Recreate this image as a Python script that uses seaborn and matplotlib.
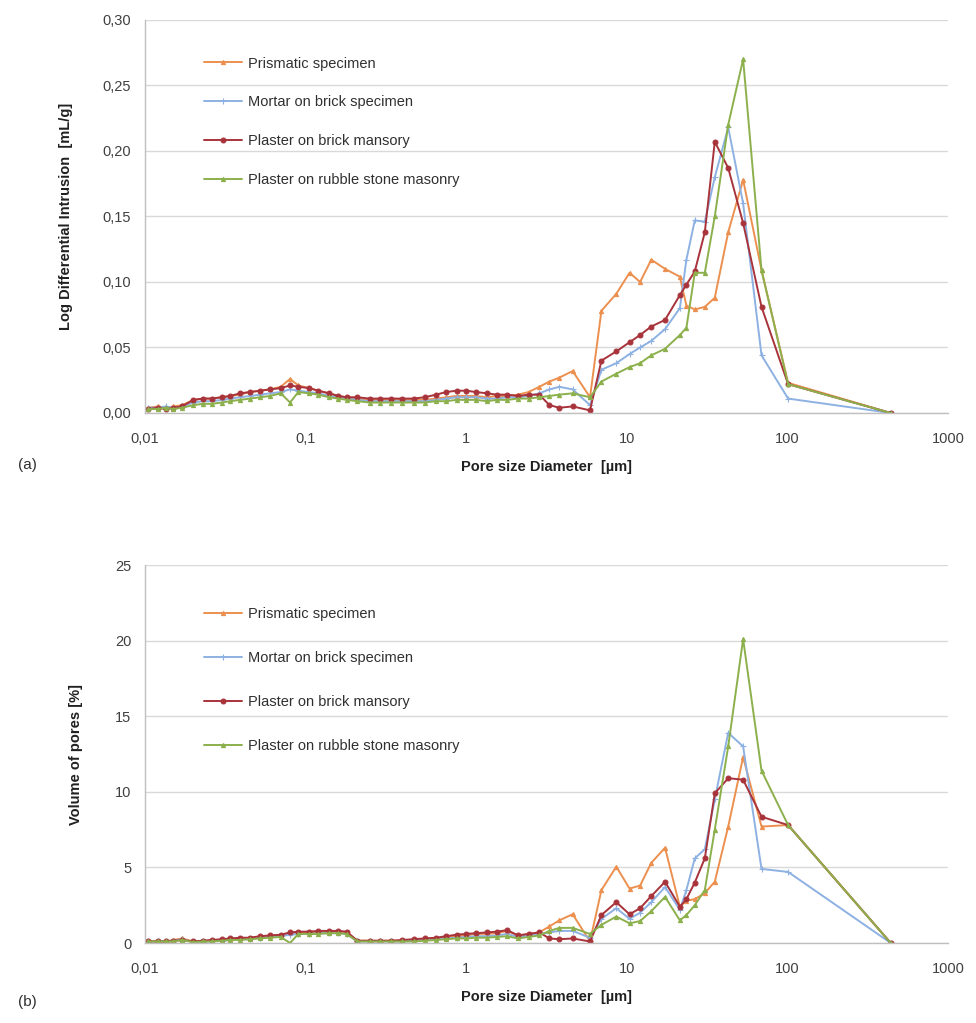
import numpy as np
import pandas as pd
import matplotlib
matplotlib.use("Agg")
import matplotlib.pyplot as plt
import seaborn as sns
from matplotlib.ticker import FixedLocator, FixedFormatter, NullLocator

# ---------------- data ----------------
series_names = ["Prismatic specimen", "Mortar on brick specimen",
                "Plaster on brick mansory", "Plaster on rubble stone masonry"]

diameter_um = [0.0105, 0.012, 0.0135, 0.015, 0.017, 0.02, 0.023, 0.026, 0.03, 0.034,
               0.039, 0.045, 0.052, 0.06, 0.07, 0.08, 0.09, 0.105, 0.12, 0.14,
               0.16, 0.18, 0.21, 0.25, 0.29, 0.34, 0.4, 0.47, 0.55, 0.65,
               0.75, 0.87, 1.0, 1.15, 1.35, 1.55, 1.8, 2.1, 2.45, 2.85,
               3.3, 3.8, 4.6, 5.9, 6.95, 8.6, 10.4, 12.1, 14.2, 17.3,
               21.4, 23.5, 26.5, 30.6, 35.3, 42.8, 53, 69, 101, 440]

# (a) Log differential intrusion [mL/g]
ldi_prismatic = [0.004, 0.005, 0.004, 0.005, 0.006, 0.010, 0.011, 0.011, 0.012, 0.013,
                 0.014, 0.016, 0.017, 0.018, 0.020, 0.026, 0.021, 0.019, 0.017, 0.015,
                 0.013, 0.012, 0.011, 0.010, 0.010, 0.010, 0.010, 0.010, 0.010, 0.011,
                 0.012, 0.013, 0.013, 0.013, 0.012, 0.013, 0.013, 0.014, 0.016, 0.020,
                 0.024, 0.027, 0.032, 0.012, 0.078, 0.091, 0.107, 0.100, 0.117, 0.110,
                 0.104, 0.082, 0.079, 0.081, 0.088, 0.138, 0.178, 0.109, 0.023, 0.0]
ldi_mortar = [0.004, 0.004, 0.005, 0.004, 0.005, 0.008, 0.009, 0.009, 0.010, 0.011,
              0.012, 0.013, 0.014, 0.015, 0.016, 0.018, 0.017, 0.016, 0.015, 0.013,
              0.012, 0.011, 0.010, 0.009, 0.009, 0.009, 0.009, 0.009, 0.009, 0.010,
              0.011, 0.012, 0.012, 0.012, 0.011, 0.011, 0.012, 0.012, 0.013, 0.015,
              0.018, 0.020, 0.018, 0.006, 0.033, 0.038, 0.045, 0.050, 0.055, 0.064,
              0.080, 0.117, 0.147, 0.146, 0.180, 0.218, 0.160, 0.044, 0.011, 0.0]
ldi_plaster_brick = [0.003, 0.004, 0.003, 0.004, 0.005, 0.010, 0.011, 0.011, 0.012, 0.013,
                     0.015, 0.016, 0.017, 0.018, 0.019, 0.021, 0.020, 0.019, 0.017, 0.015,
                     0.013, 0.012, 0.012, 0.011, 0.011, 0.011, 0.011, 0.011, 0.012, 0.014,
                     0.016, 0.017, 0.017, 0.016, 0.015, 0.014, 0.014, 0.013, 0.014, 0.014,
                     0.006, 0.004, 0.005, 0.002, 0.040, 0.047, 0.054, 0.0595, 0.066, 0.071,
                     0.090, 0.098, 0.108, 0.138, 0.207, 0.187, 0.145, 0.081, 0.022, 0.0]
ldi_plaster_rubble = [0.003, 0.003, 0.004, 0.003, 0.004, 0.006, 0.007, 0.007, 0.008, 0.009,
                      0.010, 0.011, 0.012, 0.013, 0.015, 0.008, 0.016, 0.015, 0.014, 0.012,
                      0.011, 0.010, 0.009, 0.008, 0.008, 0.008, 0.008, 0.008, 0.008, 0.009,
                      0.009, 0.010, 0.010, 0.010, 0.009, 0.010, 0.010, 0.011, 0.011, 0.012,
                      0.013, 0.014, 0.015, 0.012, 0.024, 0.030, 0.035, 0.038, 0.044, 0.049,
                      0.0595, 0.065, 0.107, 0.107, 0.150, 0.220, 0.270, 0.109, 0.022, 0.0]

# (b) Volume of pores [%]
vol_prismatic = [0.1, 0.15, 0.1, 0.2, 0.3, 0.1, 0.15, 0.15, 0.2, 0.25,
                 0.3, 0.3, 0.4, 0.45, 0.5, 0.65, 0.7, 0.7, 0.7, 0.75,
                 0.75, 0.7, 0.15, 0.15, 0.15, 0.15, 0.15, 0.15, 0.2, 0.3,
                 0.35, 0.45, 0.5, 0.6, 0.6, 0.65, 0.8, 0.5, 0.6, 0.7,
                 1.1, 1.5, 1.9, 0.1, 3.5, 5.05, 3.6, 3.8, 5.3, 6.3,
                 2.4, 2.8, 2.9, 3.3, 4.05, 7.7, 12.3, 7.7, 7.8, 0.0]
vol_mortar = [0.1, 0.1, 0.1, 0.15, 0.25, 0.05, 0.1, 0.1, 0.15, 0.2,
              0.25, 0.25, 0.35, 0.4, 0.45, 0.55, 0.6, 0.6, 0.65, 0.65,
              0.65, 0.6, 0.1, 0.1, 0.1, 0.1, 0.1, 0.15, 0.2, 0.25,
              0.3, 0.35, 0.4, 0.45, 0.45, 0.5, 0.6, 0.4, 0.5, 0.6,
              0.7, 0.8, 0.8, 0.35, 1.6, 2.3, 1.6, 2.0, 2.7, 3.7,
              2.2, 3.5, 5.6, 6.2, 9.5, 13.9, 13.0, 4.9, 4.7, 0.0]
vol_plaster_brick = [0.1, 0.1, 0.1, 0.15, 0.2, 0.1, 0.15, 0.2, 0.25, 0.3,
                     0.35, 0.35, 0.45, 0.5, 0.55, 0.7, 0.75, 0.75, 0.8, 0.8,
                     0.8, 0.75, 0.15, 0.15, 0.15, 0.15, 0.2, 0.25, 0.3, 0.35,
                     0.45, 0.55, 0.6, 0.65, 0.7, 0.75, 0.85, 0.5, 0.6, 0.7,
                     0.3, 0.25, 0.3, 0.1, 1.85, 2.7, 1.9, 2.3, 3.1, 4.05,
                     2.4, 2.9, 4.0, 5.6, 9.9, 10.9, 10.8, 8.35, 7.8, 0.0]
vol_plaster_rubble = [0.1, 0.1, 0.1, 0.1, 0.2, 0.05, 0.1, 0.1, 0.15, 0.2,
                      0.2, 0.25, 0.3, 0.35, 0.4, 0.0, 0.6, 0.6, 0.6, 0.65,
                      0.65, 0.6, 0.1, 0.1, 0.1, 0.1, 0.1, 0.1, 0.15, 0.2,
                      0.25, 0.3, 0.3, 0.35, 0.35, 0.4, 0.45, 0.3, 0.4, 0.5,
                      0.8, 1.0, 1.0, 0.6, 1.2, 1.75, 1.3, 1.45, 2.1, 3.05,
                      1.5, 1.85, 2.5, 3.5, 7.5, 13.0, 20.1, 11.4, 7.8, 0.0]

x_ticks = [0.01, 0.1, 1, 10, 100, 1000]
x_tick_labels = ["0,01", "0,1", "1", "10", "100", "1000"]
ya_ticks = [0.0, 0.05, 0.10, 0.15, 0.20, 0.25, 0.30]
ya_tick_labels = ["0,00", "0,05", "0,10", "0,15", "0,20", "0,25", "0,30"]
yb_ticks = [0, 5, 10, 15, 20, 25]
yb_tick_labels = ["0", "5", "10", "15", "20", "25"]

# ---------------- style ----------------
sns.set_style("white")
plt.rcParams["font.family"] = ["Liberation Sans", "DejaVu Sans"]

colors = ["#EC9050", "#8DB1E2", "#A8333B", "#8CB04C"]
marker_list = ["^", "+", "o", "^"]
marker_sizes = [3, 4.5, 3.5, 3]

fig = plt.figure(figsize=(9.76, 10.23), dpi=100)
ax_a = fig.add_axes([0.1486, 0.5963, 0.8227, 0.3842])
ax_b = fig.add_axes([0.1486, 0.0782, 0.8227, 0.3695])

def draw(ax, all_vals, yticks, ylabels, ylabel, ylabelpad, legend_y, spacing):
    ax.set_xscale("log")
    handles = []
    for name, vals, c, m, ms in zip(series_names, all_vals, colors,
                                    marker_list, marker_sizes):
        df = pd.DataFrame({"d": diameter_um, "y": vals})
        sns.lineplot(data=df, x="d", y="y", color=c, marker=m,
                     markersize=ms, markeredgecolor=c, markerfacecolor=c,
                     markeredgewidth=0.8, linewidth=1.4, sort=False,
                     estimator=None, legend=False, ax=ax)
        handles.append(ax.lines[-1])
    ax.set_xlim(0.01, 1000)
    ax.set_ylim(yticks[0], yticks[-1])
    ax.xaxis.set_major_locator(FixedLocator(x_ticks))
    ax.xaxis.set_major_formatter(FixedFormatter(x_tick_labels))
    ax.xaxis.set_minor_locator(NullLocator())
    ax.yaxis.set_major_locator(FixedLocator(yticks))
    ax.yaxis.set_major_formatter(FixedFormatter(ylabels))
    ax.grid(axis="y", color="#D9D9D9", linewidth=1.0)
    ax.set_axisbelow(True)
    for s in ["top", "right"]:
        ax.spines[s].set_visible(False)
    for s in ["left", "bottom"]:
        ax.spines[s].set_color("#BFBFBF")
        ax.spines[s].set_linewidth(1.0)
    ax.tick_params(axis="x", which="major", length=4, color="#BFBFBF",
                   labelsize=10.5, labelcolor="#404040", pad=10, direction="out")
    ax.tick_params(axis="y", which="major", length=4, color="#BFBFBF",
                   labelsize=10.5, labelcolor="#404040", pad=6)
    ax.set_xlabel("Pore size Diameter  [\u00b5m]", fontsize=10.5,
                  fontweight="bold", color="#202020", labelpad=10)
    ax.set_ylabel(ylabel, fontsize=10.5, fontweight="bold", color="#202020",
                  labelpad=ylabelpad)
    leg = ax.legend(handles, series_names, loc="upper left",
                    bbox_to_anchor=(0.074, legend_y), frameon=False,
                    fontsize=10.5, handlelength=2.6, handletextpad=0.4,
                    labelspacing=spacing, borderpad=0, borderaxespad=0)
    for t in leg.get_texts():
        t.set_color("#303030")

draw(ax_a, [ldi_prismatic, ldi_mortar, ldi_plaster_brick, ldi_plaster_rubble],
     ya_ticks, ya_tick_labels, "Log Differential Intrusion  [mL/g]", 21,
     0.907, 1.7)
draw(ax_b, [vol_prismatic, vol_mortar, vol_plaster_brick, vol_plaster_rubble],
     yb_ticks, yb_tick_labels, "Volume of pores [%]", 23, 0.888, 2.05)

fig.text(18 / 976, 1 - 465 / 1023, "(a)", fontsize=11, color="#303030",
         va="center", ha="left")
fig.text(18 / 976, 1 - 1002 / 1023, "(b)", fontsize=11, color="#303030",
         va="center", ha="left")

fig.savefig("out.png", dpi=100)
